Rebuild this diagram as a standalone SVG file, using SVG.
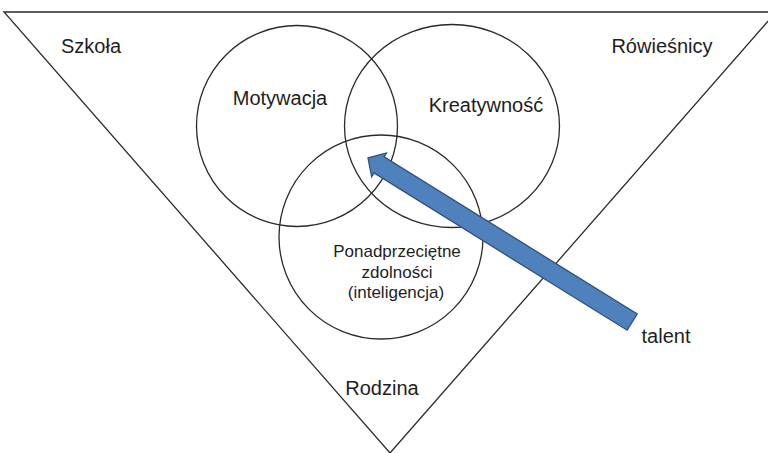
<svg xmlns="http://www.w3.org/2000/svg" width="768" height="453" viewBox="0 0 768 453">
<style>
.ln{fill:none;stroke:#2a2a2a;stroke-width:1.3}
.t{font-family:"Liberation Sans",Arial,sans-serif;font-size:20px;fill:#1e1e1e;text-anchor:middle}
.s{font-size:17px}
.arr{fill:#4f81bd;stroke:#2f4f7a;stroke-width:1.3;stroke-linejoin:miter}
</style>
<rect width="768" height="453" fill="#ffffff"/>
<g id="triangle"><polygon class="ln" points="4,12 776,12 390,453"/></g>
<g id="szkola"><text class="t" x="91" y="53">Szkoła</text></g>
<g id="rowiesnicy"><text class="t" x="662" y="53">Rówieśnicy</text></g>
<g id="rodzina"><text class="t" x="382" y="395">Rodzina</text></g>
<g id="motywacja"><circle class="ln" cx="297" cy="126" r="100.5"/><text class="t" x="280" y="105">Motywacja</text></g>
<g id="kreatywnosc"><ellipse class="ln" cx="452" cy="126" rx="107.5" ry="101.5"/><text class="t" x="486" y="112">Kreatywność</text></g>
<g id="zdolnosci"><circle class="ln" cx="381" cy="237" r="102"/><text class="t s" x="397" y="257">Ponadprzeciętne</text><text class="t s" x="397" y="278">zdolności</text><text class="t s" x="396" y="298">(inteligencja)</text></g>
<g id="connectors"><polygon class="arr" transform="translate(368,158) rotate(31.85)" points="0,0 13,-14 13,-9.5 311,-9.5 311,9.5 13,9.5 13,14"/></g>
<g id="talent"><text class="t" x="666" y="343">talent</text></g>
</svg>
